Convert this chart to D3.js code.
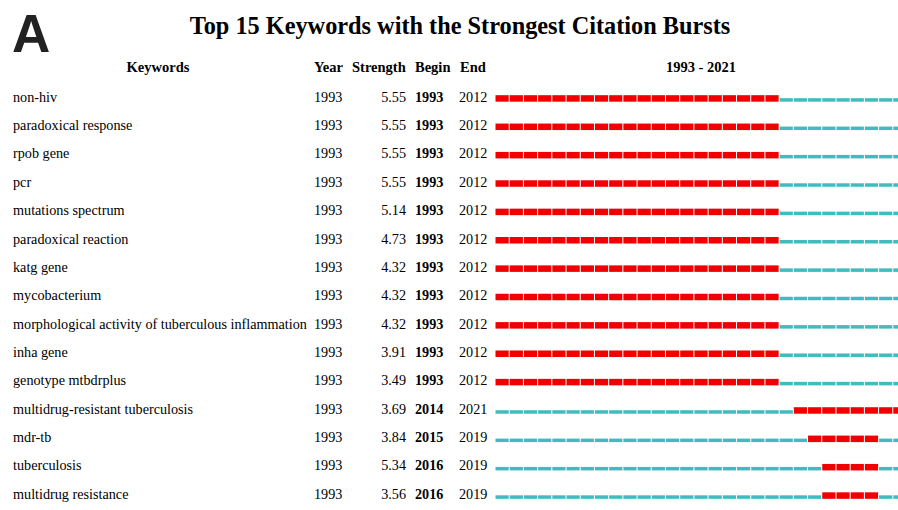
<!DOCTYPE html>
<html><head><meta charset="utf-8">
<script src="https://cdn.jsdelivr.net/npm/d3@7"></script>
<style>body{margin:0;background:#fff}svg{display:block}</style>
</head><body><div id="chart"></div>
<script>
const keywords = ["non-hiv","paradoxical response","rpob gene","pcr","mutations spectrum","paradoxical reaction","katg gene","mycobacterium","morphological activity of tuberculous inflammation","inha gene","genotype mtbdrplus","multidrug-resistant tuberculosis","mdr-tb","tuberculosis","multidrug resistance"];
const years = [1993,1993,1993,1993,1993,1993,1993,1993,1993,1993,1993,1993,1993,1993,1993];
const strengths = [5.55,5.55,5.55,5.55,5.14,4.73,4.32,4.32,4.32,3.91,3.49,3.69,3.84,5.34,3.56];
const begins = [1993,1993,1993,1993,1993,1993,1993,1993,1993,1993,1993,2014,2015,2016,2016];
const ends = [2012,2012,2012,2012,2012,2012,2012,2012,2012,2012,2012,2021,2019,2019,2019];
const rangeStart = 1993, rangeEnd = 2021;
const headers = ["Keywords","Year","Strength","Begin","End"];

const W = 898, H = 510;
const svg = d3.select("#chart").append("svg").attr("width", W).attr("height", H);
const serif = "'Liberation Serif','Times New Roman',serif";

svg.append("text").attr("x", 12).attr("y", 52).attr("font-family", "'Liberation Sans',Arial,sans-serif")
  .attr("font-weight", "bold").attr("font-size", 53).attr("fill", "#222").text("A");
svg.append("text").attr("x", 460).attr("y", 34).attr("text-anchor", "middle").attr("font-family", serif)
  .attr("font-weight", "bold").attr("font-size", 24.3).attr("fill", "#000")
  .text("Top 15 Keywords with the Strongest Citation Bursts");

const yearList = d3.range(rangeStart, rangeEnd + 1);
const x = d3.scaleLinear().domain([rangeStart, rangeEnd + 1]).range([495, 907]);
const y = d3.scaleBand().domain(d3.range(keywords.length)).range([83, 508.5]).paddingInner(0);

const hy = 72;
const hdr = svg.append("g").attr("font-family", serif).attr("font-weight", "bold").attr("font-size", 14.5).attr("fill", "#000");
hdr.append("text").attr("x", 158).attr("y", hy).attr("text-anchor", "middle").text(headers[0]);
hdr.append("text").attr("x", 314).attr("y", hy).text(headers[1]);
hdr.append("text").attr("x", 352).attr("y", hy).text(headers[2]);
hdr.append("text").attr("x", 415).attr("y", hy).text(headers[3]);
hdr.append("text").attr("x", 460).attr("y", hy).text(headers[4]);
hdr.append("text").attr("x", 701).attr("y", hy).attr("text-anchor", "middle").text(rangeStart + " - " + rangeEnd);

const rows = svg.append("g").selectAll("g").data(keywords).join("g")
  .attr("transform", (d, i) => `translate(0,${y(i) + y.bandwidth() / 2 + 4.5})`)
  .attr("font-family", serif).attr("font-size", 14.2).attr("fill", "#000");
rows.append("text").attr("x", 13).text(d => d);
rows.append("text").attr("x", 314).text((d, i) => years[i]);
rows.append("text").attr("x", 406).attr("text-anchor", "end").text((d, i) => strengths[i].toFixed(2));
rows.append("text").attr("x", 415).attr("font-weight", "bold").text((d, i) => begins[i]);
rows.append("text").attr("x", 459).text((d, i) => ends[i]);

rows.each(function(d, i) {
  const g = d3.select(this);
  g.selectAll("rect").data(yearList).join("rect")
    .attr("x", yr => x(yr) + 0.5)
    .attr("width", yr => x(yr + 1) - x(yr) - 1)
    .attr("y", yr => (yr >= begins[i] && yr <= ends[i]) ? -6.5 : -3.5)
    .attr("height", yr => (yr >= begins[i] && yr <= ends[i]) ? 6.5 : 3.5)
    .attr("fill", yr => (yr >= begins[i] && yr <= ends[i]) ? "#f00000" : "#3fbcbf");
});
</script></body></html>
